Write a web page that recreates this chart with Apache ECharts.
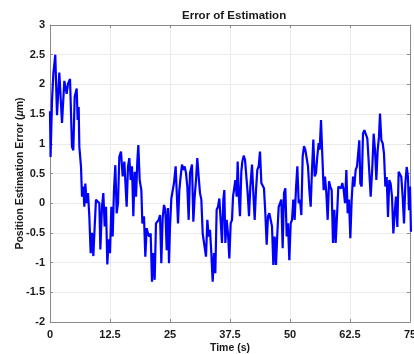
<!DOCTYPE html>
<html>
<head>
<meta charset="utf-8">
<script src="https://cdn.jsdelivr.net/npm/echarts@6/dist/echarts.min.js"></script>
<style>
  html, body { margin: 0; padding: 0; background: #fff; }
  #chart { width: 414px; height: 354px; }
</style>
</head>
<body>
<div id="chart"></div>
<script>
  // time in s and error in um
  var times = [
    0, 0.12, 0.42, 0.7, 1.1, 1.46, 1.94, 2.5, 2.99, 3.47, 3.75, 4.17, 4.58, 4.86, 5.14, 5.56, 5.76, 5.97,
    6.11, 6.46, 6.67, 6.94, 7.15, 7.36, 7.64, 7.92, 8.19, 8.47, 8.75, 9.03, 9.31, 9.58, 9.93, 10.28,
    10.49, 10.83, 11.11, 11.39, 11.67, 11.94, 12.22, 12.5, 12.78, 13.06, 13.33, 13.61, 13.89, 14.17,
    14.44, 14.79, 15.14, 15.49,
    15.97, 16.25, 16.53, 16.81, 17.08, 17.36, 17.64, 17.92, 18.19, 18.4, 18.68, 19.03, 19.24, 19.58,
    19.86, 20.14, 20.42, 20.69, 20.97, 21.25, 21.53, 21.81, 22.08, 22.36, 22.64, 22.92, 23.19, 23.47,
    23.75, 24.03, 24.31, 24.58, 24.79, 25.0, 25.28, 25.56, 25.83, 26.18, 26.39, 26.67, 26.94, 27.22,
    27.5, 27.78, 28.06, 28.33, 28.61, 28.89, 29.17, 29.58, 29.86, 30.14, 30.42, 30.69, 30.97, 31.25,
    31.53, 31.81,
    32.5, 32.78, 33.06, 33.33, 33.61, 33.89, 34.17, 34.44, 34.72, 35.0, 35.28, 35.56, 35.83, 36.11,
    36.32, 36.53, 36.81, 37.08, 37.36, 37.64, 37.92, 38.13, 38.4, 38.61, 38.89, 39.1, 39.38, 39.58,
    39.86, 40.07, 40.35, 40.63, 40.9, 41.18, 41.46, 41.74, 42.08, 42.36, 42.64, 42.92, 43.19, 43.47,
    43.75, 44.03, 44.31, 44.58, 44.86, 45.14, 45.42, 45.69, 45.97, 46.25, 46.53, 46.81, 47.08, 47.36,
    47.64, 47.92, 48.19,
    48.47, 48.75, 49.03, 49.31, 49.58, 49.86, 50.14, 50.42, 50.69, 50.97, 51.25, 51.53, 51.81, 52.08,
    52.36, 52.64, 52.92, 53.19, 53.47, 53.75, 54.03, 54.31, 54.58, 54.86, 55.14, 55.42, 55.69, 55.97,
    56.18, 56.46, 56.74, 57.01, 57.29, 57.57, 57.85, 58.13, 58.4, 58.68, 58.96, 59.24, 59.51, 59.79,
    60.07, 60.35, 60.63, 60.9, 61.18, 61.46, 61.74, 62.01, 62.29, 62.57, 62.85, 63.13, 63.4, 63.68,
    63.96,
    64.44, 64.65, 64.93, 65.21, 65.49, 65.83, 66.11, 66.46, 66.81, 67.15, 67.43, 67.71, 67.99, 68.26,
    68.54, 68.75, 69.03, 69.31, 69.58, 69.86, 70.14, 70.42, 70.69, 70.97, 71.25, 71.53, 71.81, 72.08,
    72.36, 72.64, 72.92, 73.19, 73.47, 73.75, 74.03, 74.31, 74.58, 74.79, 75.0, 75.2
  ];
  var errors = [
    1.55, 0.78, 1.73, 2.18, 2.5, 1.48, 2.2, 1.35, 2.06, 1.84, 2.01, 2.09, 0.95, 0.89, 1.79, 1.93, 1.4, 1.62,
    0.95, 0.61, 0.11, 0.28, -0.06, 0.33, 0, 0.17, -0.22, -0.84, -0.5, -0.89, -0.39, 0.06, 0.06, 0,
    -0.78, -0.06, 0.17, -0.39, -0.06, -1.03, -0.61, -0.84, -0.06, -0.56, 0.22, 0.64, -0.17, 0,
    0.78, 0.87, 0.45, 0.7,
    -0.06, 0.62, 0.76, 0.39, 0.62, -0.22, 0.53, 0.11, 0.7, 0.98, 0.39, 0.22, -0.34, -0.22,
    -0.9, -0.42, -0.51, -0.56, -0.51, -1.32, -0.84, -1.29, -0.34, -0.31, -0.28, -0.2, -1.01, -0.25,
    -0.03, -0.11, -0.79, -0.08, -1.01, -0.39, 0.08, 0.11, 0.34, 0.62, 0.65, -0.34, 0.22, 0.45,
    0.65, 0.56, 0.62, 0.51, 0.28, -0.28, 0.51, 0.65, -0.31, 0.11, 0.39, 0.76, 0.45, 0.17,
    0.06, -0.51,
    -0.9, -0.28, -0.56, -0.45, -0.84, -1.32, -0.84, -1.18, -0.11, -0.06, 0.08, 0.11, -0.67, 0.06,
    0.22, -0.67, -0.28, -0.51, -0.93, -0.34, -0.28, 0.11, 0.08, 0.39, 0.11, 0.7, 0.06, -0.22,
    0.53, 0.7, 0.8, 0.73, 0.7, 0.17, -0.22, 0.28, 0.65, 0.17, -0.28, 0.22, 0.56, 0.62,
    0.87, 0.34, 0.37, 0.25, -0.17, -0.7, -0.22, -0.17, -0.28, -0.39, -1.04, -0.56, -1.04, -0.51,
    -0.06, 0, 0.06,
    -0.76, 0.17, 0.25, -0.56, -0.34, -0.96, -0.34, -0.28, 0.06, -0.28, 0.25, 0.62, 0, 0.06,
    -0.2, 0.79, 0.96, 0.9, 0.93, 0.62, 0.22, -0.06, 0.56, 1.07, 0.45, 0.51, 0.79, 1.01,
    0.9, 1.4, 0.79, 0.22, 0.45, 0.17, -0.28, 0.37, 0.28, 0.22, -0.67, -0.11, -0.67, -0.22,
    0.28, 0.31, 0.25, 0.34, 0.22, 0, 0.56, -0.17, 0.06, -0.59, 0.06, 0.45, 0.28, 0.56,
    0.62,
    1.06, 0.33, 0.28, 1.17, 1.23, 1.2, 1.09, 0.61, 0.11, 0.61, 1.17, 0.89, 0.39, 0.89,
    1.12, 1.51, 1.06, 1.01, 0.84, 0.28, 0.44, -0.23, 0.39, 0.33, 0.11, -0.51, -0.17, 0.11,
    -0.4, 0.53, 0.5, 0.44, 0.11, -0.34, 0.33, 0.61, 0.44, -0.12, 0.28, -0.48
  ];
  var xTicks = [0, 12.5, 25, 37.5, 50, 62.5, 75];
  var yTicks = [-2, -1.5, -1, -0.5, 0, 0.5, 1, 1.5, 2, 2.5, 3];

  var points = times.map(function (t, i) { return [t, errors[i]]; });

  var font = '"Liberation Sans", Arial, sans-serif';
  var boxLine = { show: true, onZero: false, lineStyle: { color: '#8a8a8a', width: 1 } };
  var boxTick = { show: true, inside: true, length: 3, lineStyle: { color: '#8a8a8a' } };
  var gridLine = { show: true, lineStyle: { color: '#ebebeb', width: 1 } };

  var myChart = echarts.init(document.getElementById('chart'));
  var option = {
    animation: false,
    title: {
      text: 'Error of Estimation',
      left: 177,
      top: 5,
      textStyle: { fontFamily: font, fontSize: 11.5, fontWeight: 'bold', color: '#1a1a1a' }
    },
    grid: { left: 50, right: 4, top: 25, bottom: 32, outerBoundsMode: 'none' },
    xAxis: [
      {
        type: 'value',
        min: xTicks[0],
        max: xTicks[xTicks.length - 1],
        interval: 12.5,
        name: 'Time (s)',
        nameLocation: 'middle',
        nameMoveOverlap: false,
        nameGap: 21,
        nameTextStyle: { fontFamily: font, fontSize: 10.5, fontWeight: 'bold', color: '#1a1a1a' },
        axisLine: boxLine,
        axisTick: boxTick,
        splitLine: gridLine,
        axisLabel: {
          margin: 7,
          fontFamily: font, fontSize: 11, fontWeight: 'bold', color: '#1a1a1a',
          formatter: function (v) { return String(v); }
        }
      },
      {
        type: 'value',
        position: 'top',
        min: xTicks[0],
        max: xTicks[xTicks.length - 1],
        interval: 12.5,
        axisLine: boxLine,
        axisTick: boxTick,
        axisLabel: { show: false },
        splitLine: { show: false }
      }
    ],
    yAxis: [
      {
        type: 'value',
        min: yTicks[0],
        max: yTicks[yTicks.length - 1],
        interval: 0.5,
        name: 'Position Estimation Error ({i|μ}m)',
        nameLocation: 'middle',
        nameMoveOverlap: false,
        nameGap: 24,
        nameTextStyle: {
          fontFamily: font, fontSize: 10.5, fontWeight: 'bold', color: '#1a1a1a',
          rich: { i: { fontFamily: font, fontSize: 10.5, fontWeight: 'bold', fontStyle: 'italic', color: '#1a1a1a' } }
        },
        axisLine: boxLine,
        axisTick: boxTick,
        splitLine: gridLine,
        axisLabel: {
          margin: 5,
          fontFamily: font, fontSize: 11, fontWeight: 'bold', color: '#1a1a1a'
        }
      },
      {
        type: 'value',
        position: 'right',
        min: yTicks[0],
        max: yTicks[yTicks.length - 1],
        interval: 0.5,
        axisLine: boxLine,
        axisTick: boxTick,
        axisLabel: { show: false },
        splitLine: { show: false }
      }
    ],
    series: [
      {
        type: 'line',
        data: points,
        showSymbol: false,
        symbol: 'none',
        clip: true,
        lineStyle: { color: '#0000ff', width: 2.2 }
      }
    ]
  };
  myChart.setOption(option);
</script>
</body>
</html>
